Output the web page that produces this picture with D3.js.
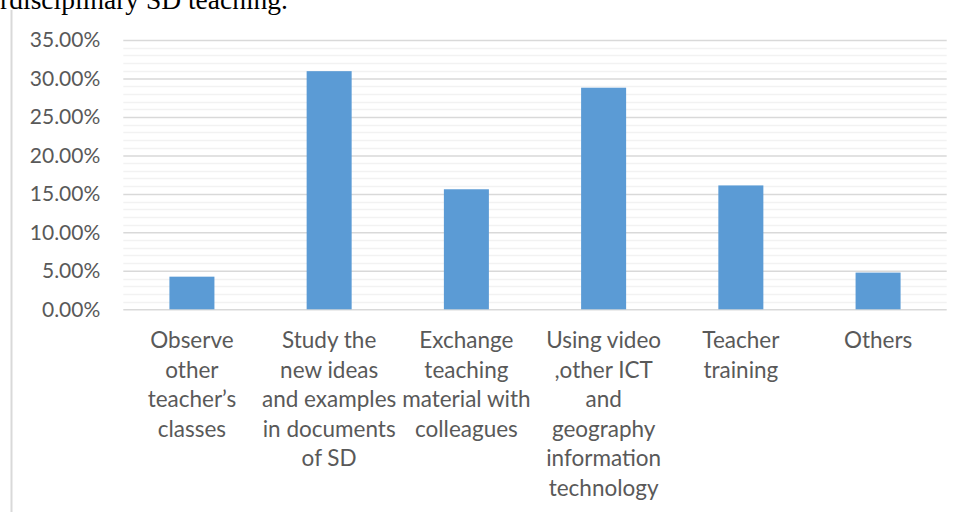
<!DOCTYPE html>
<html><head><meta charset="utf-8">
<script src="https://cdn.jsdelivr.net/npm/d3@7"></script>
<style>body{margin:0;background:#fff;}svg{display:block;}</style>
</head><body>
<script>
const categories = [
  "Observe\nother\nteacher’s\nclasses",
  "Study the\nnew ideas\nand examples\nin documents\nof SD",
  "Exchange\nteaching\nmaterial with\ncolleagues",
  "Using video\n,other ICT\nand\ngeography\ninformation\ntechnology",
  "Teacher\ntraining",
  "Others"
];
const values = [0.0424, 0.3095, 0.156, 0.288, 0.161, 0.0477];
const majorTicks = [0, 0.05, 0.10, 0.15, 0.20, 0.25, 0.30, 0.35];
const minorTicks = d3.range(0, 36).map(i => i / 100);
const captionText = "interdisciplinary SD teaching.";

const W = 961, H = 512;
const svg = d3.select("body").append("svg").attr("width", W).attr("height", H);

const x = d3.scaleBand().domain(categories).range([123.3, 946.7]).paddingInner(0.672).paddingOuter(0.336);
const y = d3.scaleLinear().domain([0, 0.35]).range([309.3, 40]);

// caption text (cut at top-left edge, as in the reference)
svg.append("text").attr("x", 288).attr("y", 9).attr("text-anchor", "end")
  .attr("font-family", "Liberation Serif").attr("font-size", 27.5).attr("fill", "#000")
  .text(captionText);

// left frame line
svg.append("line").attr("x1", 11.5).attr("x2", 11.5).attr("y1", 10).attr("y2", H)
  .attr("stroke", "#d9d9d9").attr("stroke-width", 2);

// minor gridlines
svg.append("g").selectAll("line").data(minorTicks.filter((d, i) => i % 5 !== 0)).join("line")
  .attr("x1", 123.3).attr("x2", 946.7)
  .attr("y1", d => Math.round(y(d)) + 0.5).attr("y2", d => Math.round(y(d)) + 0.5)
  .attr("stroke", "#f2f2f2").attr("stroke-width", 1.5);

// major gridlines via axis
const yAxis = d3.axisLeft(y).tickValues(majorTicks).tickSize(-(946.7 - 123.3)).tickPadding(23)
  .tickFormat(d => (d * 100).toFixed(2) + "%");
const gy = svg.append("g").attr("transform", "translate(123.3,0)").call(yAxis);
gy.select(".domain").remove();
gy.selectAll(".tick line").attr("stroke", "#d9d9d9").attr("stroke-width", 1.5);
gy.selectAll(".tick text").attr("font-family", "Lato").attr("font-size", 21).attr("fill", "#595959");

// bars
svg.append("g").selectAll("rect").data(values).join("rect")
  .attr("x", (d, i) => x(categories[i]))
  .attr("width", x.bandwidth())
  .attr("y", d => y(d))
  .attr("height", d => y(0) - y(d))
  .attr("fill", "#5b9bd5");

// x axis labels
const xAxis = d3.axisBottom(x).tickSize(0).tickFormat("");
const gx = svg.append("g").attr("transform", "translate(0,309.3)").call(xAxis);
gx.select(".domain").remove();
gx.selectAll(".tick").each(function(d) {
  const t = d3.select(this).append("text")
    .attr("font-family", "Lato").attr("font-size", 22.5).attr("fill", "#595959")
    .attr("text-anchor", "middle");
  d.split("\n").forEach((line, i) => {
    t.append("tspan").attr("x", 0).attr("y", 39 + i * 29.5).text(line);
  });
});
</script>
</body></html>
